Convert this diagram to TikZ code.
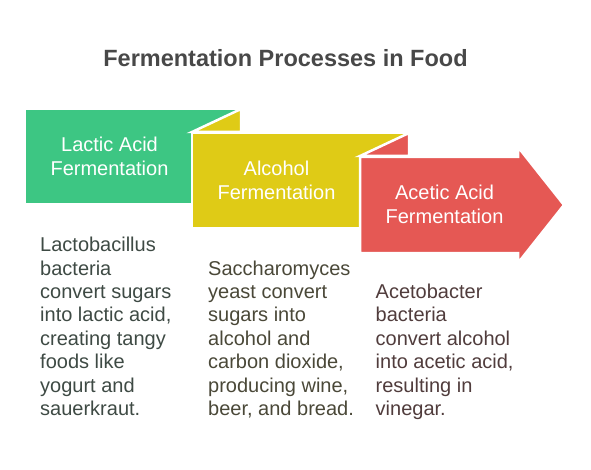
\documentclass[tikz,border=0pt]{standalone}
\usepackage{fontspec}
\setmainfont{Liberation Sans}
\definecolor{cgreen}{RGB}{61,198,131}
\definecolor{cyellow}{RGB}{223,203,22}
\definecolor{cred}{RGB}{229,88,84}
\definecolor{ctitle}{RGB}{72,72,72}
\definecolor{tgreen}{RGB}{62,74,68}
\definecolor{tyellow}{RGB}{74,72,56}
\definecolor{tred}{RGB}{80,60,60}
\tikzset{
  band/.style={draw=white, line width=2.5pt, line join=miter},
  head/.style={text=white, align=center, anchor=base, inner sep=0pt,
    font=\fontsize{20}{24}\selectfont},
  body/.style={align=left, anchor=base west, inner sep=0pt,
    font=\fontsize{20}{23.4}\selectfont},
  title/.style={text=ctitle, anchor=base, inner sep=0pt,
    font=\fontsize{23.5}{28}\selectfont\bfseries}
}
\begin{document}
\begin{tikzpicture}[x=1pt,y=-1pt]
\useasboundingbox (0,0) rectangle (591,470);
\node[title] (title) at (285.5,67) {Fermentation Processes in Food};
% green block
\fill[cgreen, band] (25,109) rectangle (241,204);
% yellow block
\fill[cyellow, band] (192,132) -- (241,109) -- (241,132) -- cycle;
\fill[cyellow, band] (192,133) rectangle (409,228);
% red block
\fill[cred, band] (360,156) -- (409,133) -- (409,156) -- cycle;
\fill[cred, band] (360,157) -- (518,157) -- (518,147) -- (564,205) -- (518,263) -- (518,253) -- (360,253) -- cycle;
\node[head] (h1) at (109.5,176) {Lactic Acid\\Fermentation};
\node[head] (h2) at (276.5,200) {Alcohol\\Fermentation};
\node[head] (h3) at (444.5,223.5) {Acetic Acid\\Fermentation};
\node[body, text=tgreen] (b1) at (40,415.5) {Lactobacillus\\bacteria\\convert sugars\\into lactic acid,\\creating tangy\\foods like\\yogurt and\\sauerkraut.};
\node[body, text=tyellow] (b2) at (208,415.5) {Saccharomyces\\yeast convert\\sugars into\\alcohol and\\carbon dioxide,\\producing wine,\\beer, and bread.};
\node[body, text=tred] (b3) at (375.5,415.5) {Acetobacter\\bacteria\\convert alcohol\\into acetic acid,\\resulting in\\vinegar.};
\end{tikzpicture}
\end{document}
